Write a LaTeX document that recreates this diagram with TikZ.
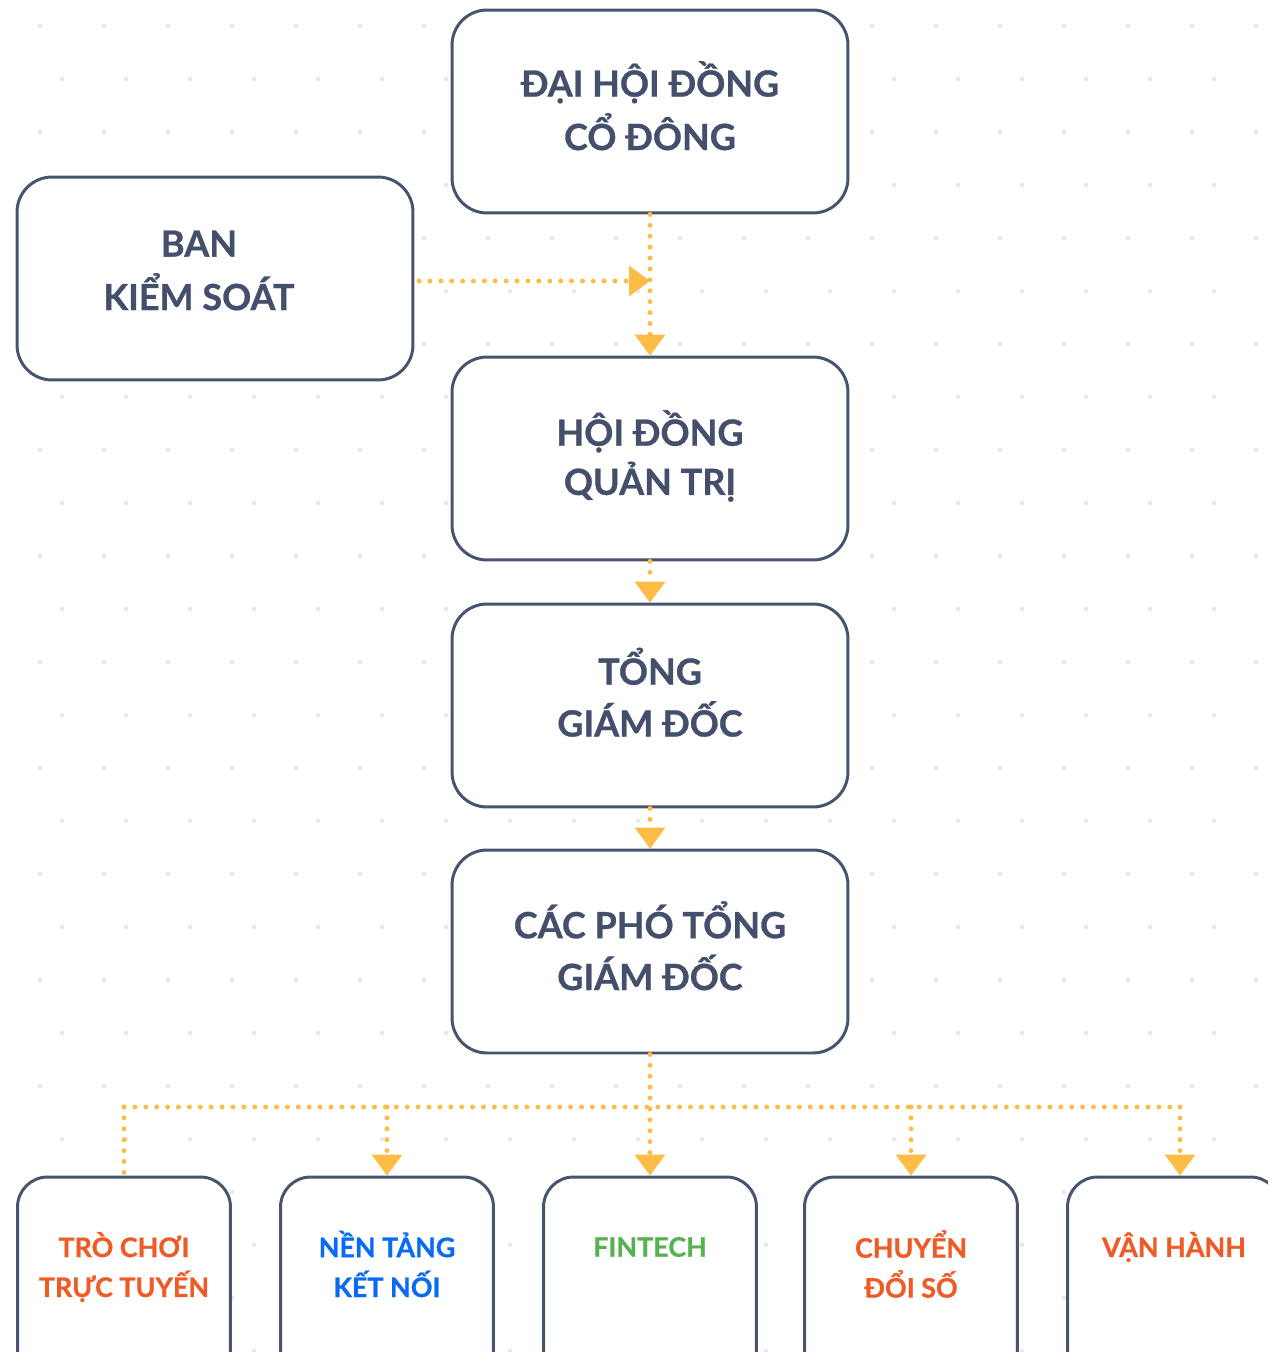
\documentclass[tikz,border=0pt]{standalone}
\usepackage{fontspec}
\setmainfont{Lato}[BoldFeatures={FakeBold=0.8}]
\usepackage{xcolor}
\usetikzlibrary{arrows.meta,positioning,calc}
\definecolor{boxline}{HTML}{475470}
\definecolor{textgray}{HTML}{44506B}
\definecolor{linkyellow}{HTML}{FDBC45}
\definecolor{deptorange}{HTML}{EE5B26}
\definecolor{deptblue}{HTML}{0A6BF2}
\definecolor{deptgreen}{HTML}{56B250}
\definecolor{griddot}{HTML}{E9E9EC}

\begin{document}
\begin{tikzpicture}
[x=0.02cm,y=-0.02cm,
	board/.style={draw=boxline,line width=1.7pt,rounded corners=0.7cm,fill=white,
		minimum width=7.92cm,minimum height=4.06cm},
	boardname/.style={text=textgray,font=\fontsize{20.5}{28}\selectfont\bfseries,align=center},
	dept/.style={draw=boxline,line width=1.7pt,rounded corners=0.6cm,fill=white,
		minimum width=4.26cm,minimum height=4.26cm},
	deptname/.style={font=\fontsize{15.3}{22.7}\selectfont\bfseries,align=center,inner sep=0pt},
	link/.style={draw=linkyellow,line width=2.8pt,line cap=round,dash pattern=on 0pt off 6.2pt},
	tip/.style={-{Triangle[width=0.62cm,length=0.42cm,line width=0pt,fill=linkyellow]}}]

\useasboundingbox (0,0) rectangle (1268,1352);
\clip (0,0) rectangle (1268,1352);

% faint dot grid
\foreach \r in {0,...,25}
	\foreach \c in {0,...,20}
		\fill[griddot] ({\c*64+mod(\r,2)*22+40},{\r*53+26}) circle (2.4);

\node (dhdcd) at (650,111.5)[board] {};
\node (bks) at (215,278.5)[board] {};
\node (hdqt) at (650,458.5)[board] {};
\node (tgd) at (650,705.5)[board] {};
\node (cptgd) at (650,951.5)[board] {};

\node (dhdcdname) at (650,113)[boardname] {\strut ĐẠI HỘI ĐỒNG\\CỔ ĐÔNG\strut};
\node (bksname) at (199,273.5)[boardname] {\strut BAN\\KIỂM SOÁT\strut};
\node (hdqtname) at (650,460)[boardname] {\strut HỘI ĐỒNG\\QUẢN TRỊ\strut};
\node (tgdname) at (650,699.5)[boardname] {\strut TỔNG\\GIÁM ĐỐC\strut};
\node (cptgdname) at (650,953)[boardname] {\strut CÁC PHÓ TỔNG\\GIÁM ĐỐC\strut};

\node (d1) at (124,1283.5)[dept] {};
\node (d2) at (387,1283.5)[dept] {};
\node (d3) at (650,1283.5)[dept] {};
\node (d4) at (911,1283.5)[dept] {};
\node (d5) at (1174,1283.5)[dept] {};

\node (trochoi) at (124,1267)[deptname,text=deptorange] {TRÒ CHƠI\\TRỰC TUYẾN};
\node (nentang) at (387,1264)[deptname,text=deptblue] {NỀN TẢNG\\KẾT NỐI};
\node (fintech) at (650,1247)[deptname,text=deptgreen] {FINTECH};
\node (chuyendoi) at (911,1264)[deptname,text=deptorange] {CHUYỂN\\ĐỔI SỐ};
\node (vanhanh) at (1174,1247)[deptname,text=deptorange] {VẬN HÀNH};

\draw[link,tip] (dhdcd) -- (hdqt);
\coordinate (bksout) at (419,281);
\draw[link,tip] (bksout) -- (bksout -| dhdcd);
\draw[link,tip] (hdqt) -- (tgd);
\draw[link,tip] (tgd) -- (cptgd);

\coordinate (busL) at (124,1107);
\coordinate (busR) at (1180,1107);
\draw[link] (busL) -- (busR);
\draw[link,tip] (cptgd) -- (d3);
\draw[link] (busL) -- (d1.north);
\draw[link,tip] (d2 |- busL) -- (d2.north);
\draw[link,tip] (d4 |- busL) -- (d4.north);
\draw[link,tip] (busR) -- (busR |- d5.north);

\end{tikzpicture}
\end{document}
